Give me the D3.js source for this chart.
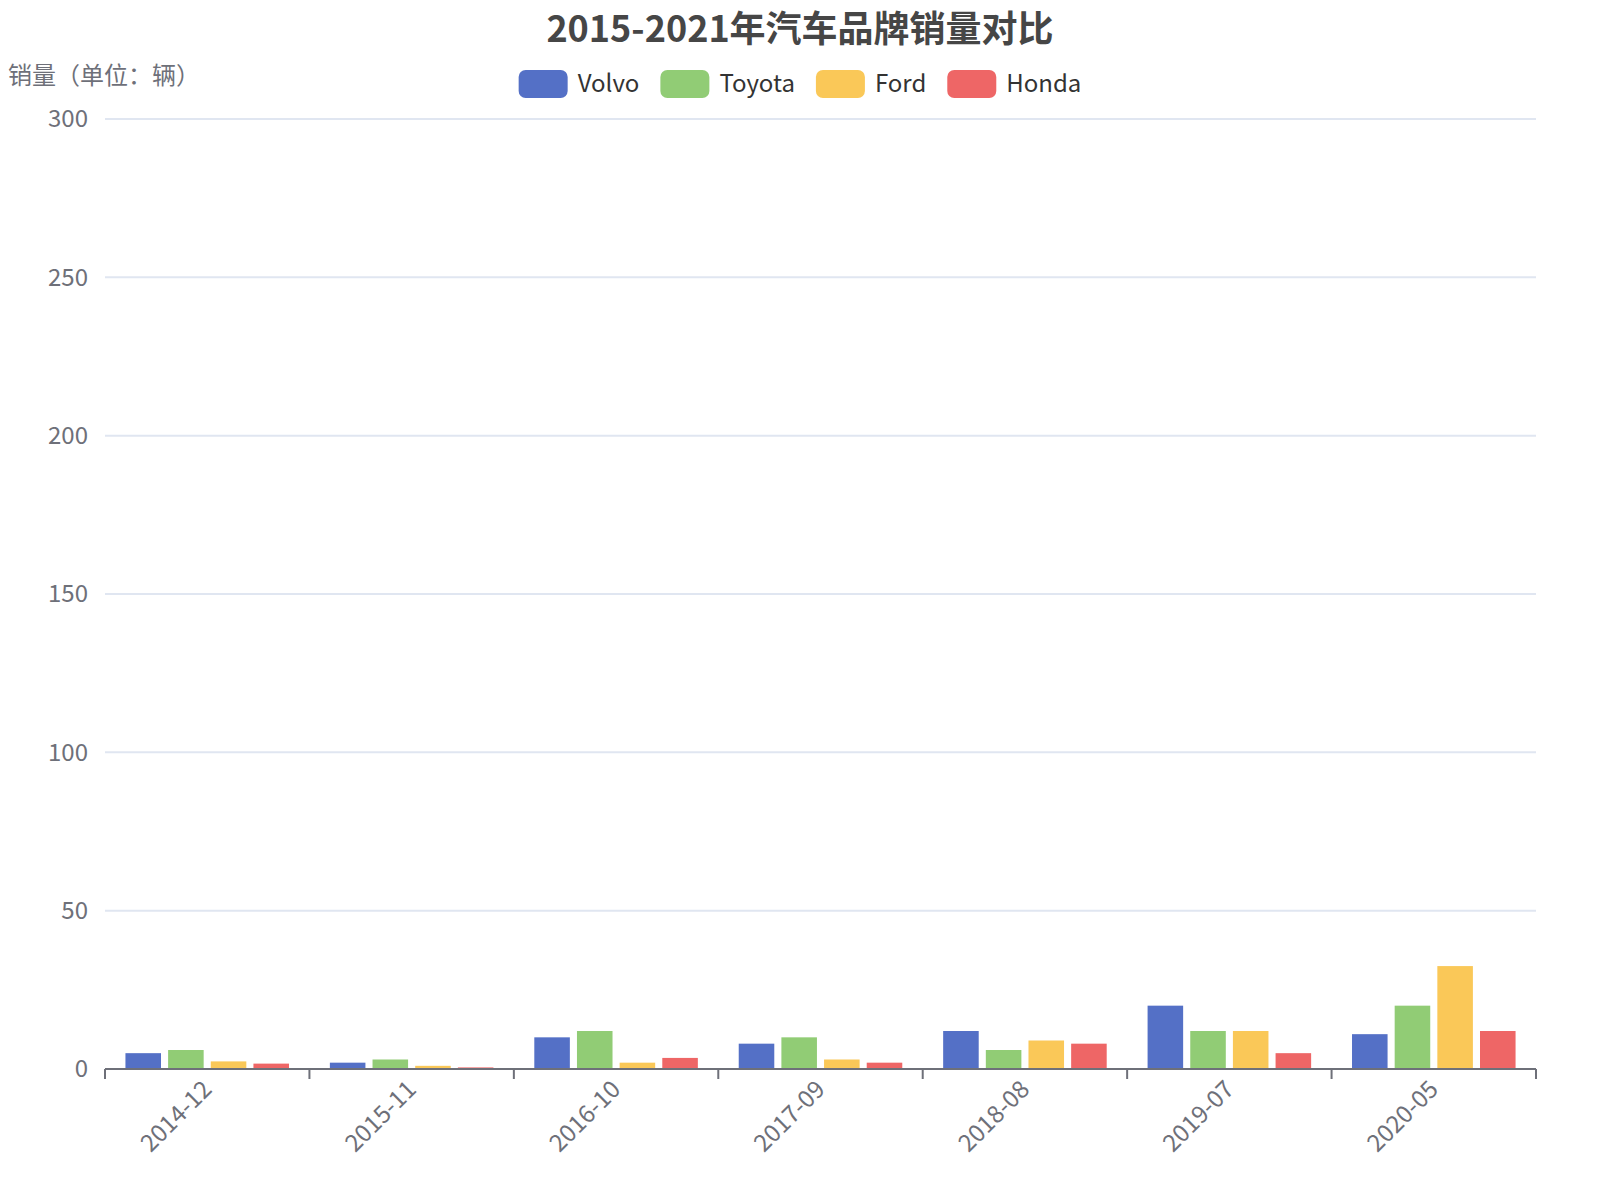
<!DOCTYPE html>
<html>
<head>
<meta charset="utf-8">
<script src="https://cdn.jsdelivr.net/npm/d3@7"></script>
<style>
    body { margin: 0; background: #fff; }
    svg text { font-family: "Noto Sans CJK SC", "Noto Sans", sans-serif; }
</style>
</head>
<body>
<div id="chart"></div>
<script>
// data
var categories = ['2014-12', '2015-11', '2016-10', '2017-09', '2018-08', '2019-07', '2020-05'];
var seriesNames = ['Volvo', 'Toyota', 'Ford', 'Honda'];
var seriesColors = ['#5470c6', '#91cc75', '#fac858', '#ee6666'];
var volvo  = [5, 2, 10, 8, 12, 20, 11];
var toyota = [6, 3, 12, 10, 6, 12, 20];
var ford   = [2.4, 1, 2, 3, 9, 12, 32.5];
var honda  = [1.7, 0.5, 3.5, 2, 8, 5, 12];
var yTicks = [0, 50, 100, 150, 200, 250, 300];

var seriesValues = [volvo, toyota, ford, honda];

var W = 1600, H = 1200;
var margin = { top: 119, right: 64, bottom: 131, left: 105 };
var width = W - margin.left - margin.right,
    height = H - margin.top - margin.bottom;

var svg = d3.select('#chart')
    .append('svg')
    .attr('width', W)
    .attr('height', H);

// Title
svg.append('text')
    .attr('x', W / 2)
    .attr('y', 42)
    .attr('text-anchor', 'middle')
    .attr('font-size', 36)
    .attr('font-weight', 'bold')
    .attr('fill', '#464646')
    .text('2015-2021年汽车品牌销量对比');

// Legend
var legend = svg.append('g');
var lx = 0;
seriesNames.forEach(function(name, i) {
    var item = legend.append('g').attr('transform', 'translate(' + lx + ',0)');
    item.append('rect')
        .attr('x', 0)
        .attr('y', 70)
        .attr('width', 49)
        .attr('height', 28)
        .attr('rx', 7)
        .attr('fill', seriesColors[i]);
    var t = item.append('text')
        .attr('x', 59)
        .attr('y', 84)
        .attr('dy', '0.35em')
        .attr('font-size', 24)
        .attr('fill', '#333')
        .text(name);
    lx += 59 + t.node().getComputedTextLength() + 21;
});
lx -= 21;
legend.attr('transform', 'translate(' + (W / 2 - lx / 2) + ',0)');

var g = svg.append('g')
    .attr('transform', 'translate(' + margin.left + ',' + margin.top + ')');

// Scales
var x0 = d3.scaleBand()
    .domain(categories)
    .range([0, width])
    .paddingInner(0)
    .paddingOuter(0);

var x1 = d3.scaleBand()
    .domain(seriesNames)
    .range([x0.bandwidth() * 0.1, x0.bandwidth() * 0.9])
    .paddingInner(1 / 6);

var y = d3.scaleLinear()
    .domain([0, 300])
    .range([height, 0]);

// Grid lines
g.selectAll('.grid')
    .data(yTicks.filter(function(d) { return d > 0; }))
    .enter()
    .append('line')
    .attr('class', 'grid')
    .attr('x1', 0)
    .attr('x2', width)
    .attr('y1', function(d) { return y(d); })
    .attr('y2', function(d) { return y(d); })
    .attr('stroke', '#E0E6F1')
    .attr('stroke-width', 2);

// Y axis labels
g.selectAll('.ylabel')
    .data(yTicks)
    .enter()
    .append('text')
    .attr('class', 'ylabel')
    .attr('x', -17)
    .attr('y', function(d) { return y(d); })
    .attr('dy', '0.35em')
    .attr('text-anchor', 'end')
    .attr('font-size', 24)
    .attr('fill', '#6E7079')
    .text(function(d) { return d; });

// Y axis name
svg.append('text')
    .attr('x', 8)
    .attr('y', 76)
    .attr('dy', '0.35em')
    .attr('font-size', 24)
    .attr('fill', '#6E7079')
    .text('销量（单位：辆）');

// Bars
var groups = g.selectAll('.cat')
    .data(categories)
    .enter()
    .append('g')
    .attr('class', 'cat')
    .attr('transform', function(d) { return 'translate(' + x0(d) + ',0)'; });

groups.selectAll('rect')
    .data(function(d, ci) {
        return seriesNames.map(function(s, si) {
            return { series: s, value: seriesValues[si][ci], color: seriesColors[si] };
        });
    })
    .enter()
    .append('rect')
    .attr('x', function(d) { return x1(d.series); })
    .attr('width', x1.bandwidth())
    .attr('y', function(d) { return y(d.value); })
    .attr('height', function(d) { return height - y(d.value); })
    .attr('fill', function(d) { return d.color; });

// X axis
var xAxisG = g.append('g')
    .attr('transform', 'translate(0,' + height + ')');

xAxisG.append('line')
    .attr('x1', 0)
    .attr('x2', width)
    .attr('stroke', '#6E7079')
    .attr('stroke-width', 2);

var tickPos = categories.map(function(c) { return x0(c); }).concat([width]);
xAxisG.selectAll('.tick')
    .data(tickPos)
    .enter()
    .append('line')
    .attr('x1', function(d) { return d; })
    .attr('x2', function(d) { return d; })
    .attr('y1', 0)
    .attr('y2', 10)
    .attr('stroke', '#6E7079')
    .attr('stroke-width', 2);

xAxisG.selectAll('.xlabel')
    .data(categories)
    .enter()
    .append('text')
    .attr('class', 'xlabel')
    .attr('transform', function(d) {
        return 'translate(' + (x0(d) + x0.bandwidth() / 2) + ',16) rotate(-45)';
    })
    .attr('dy', '0.35em')
    .attr('text-anchor', 'end')
    .attr('font-size', 24)
    .attr('fill', '#6E7079')
    .text(function(d) { return d; });
</script>
</body>
</html>
